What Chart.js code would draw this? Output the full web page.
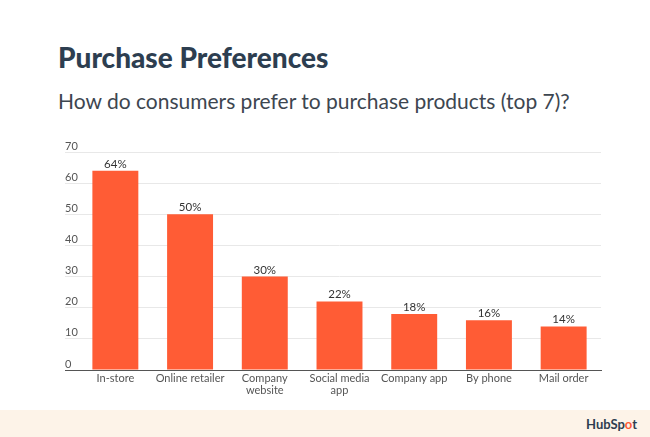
<!DOCTYPE html>
<html>
<head>
<meta charset="utf-8">
<script src="https://cdn.jsdelivr.net/npm/chart.js@4"></script>
<style>
  body { margin: 0; width: 650px; height: 437px; background: #fff; position: relative; overflow: hidden; font-family: Lato, sans-serif; }
  #title { position: absolute; left: 58px; top: 41px; font-size: 28px; line-height: 1.2; font-weight: 900; color: #2d3e50; margin: 0; white-space: nowrap; }
  #subtitle { position: absolute; left: 58px; top: 88px; font-size: 21px; line-height: 1.2; font-weight: 400; color: #3d4650; margin: 0; white-space: nowrap; }
  #wrap { position: absolute; left: 0; top: 130px; width: 650px; height: 280px; }
  #footer { position: absolute; left: 0; top: 410px; width: 650px; height: 27px; background: #fdf3e8; }
  #logo { position: absolute; right: 13px; top: 6px; font-size: 13px; font-weight: 700; color: #2d3e50; }
  #logo span { color: #ff5c35; }
</style>
</head>
<body>
<h1 id="title">Purchase Preferences</h1>
<p id="subtitle">How do consumers prefer to purchase products (top 7)?</p>
<div id="wrap"><canvas id="chart"></canvas></div>
<div id="footer"><div id="logo">HubSp<span>o</span>t</div></div>
<script>
// chart data
const categories = ['In-store', 'Online retailer', ['Company', 'website'], ['Social media', 'app'], 'Company app', 'By phone', 'Mail order'];
const shares = [64, 50, 30, 22, 18, 16, 14];
const yTicks = [0, 10, 20, 30, 40, 50, 60, 70];

// draws the "xx%" labels above each bar
const valueLabels = {
    id: 'valueLabels',
    afterDatasetsDraw(chart) {
        const ctx = chart.ctx;
        const meta = chart.getDatasetMeta(0);
        ctx.save();
        ctx.font = '11.5px Lato, sans-serif';
        ctx.fillStyle = '#333';
        ctx.textAlign = 'center';
        ctx.textBaseline = 'bottom';
        meta.data.forEach((bar, i) => {
            ctx.fillText(shares[i] + '%', bar.x, bar.y - 1);
        });
        ctx.restore();
    }
};

new Chart(document.getElementById('chart'), {
    type: 'bar',
    data: {
        labels: categories,
        datasets: [{
            data: shares,
            backgroundColor: '#ff5c35',
            borderWidth: 0,
            categoryPercentage: 1,
            barPercentage: 0.615
        }]
    },
    options: {
        responsive: true,
        maintainAspectRatio: false,
        animation: false,
        layout: { padding: { top: 22, right: 49, left: 65, bottom: 0 } },
        plugins: {
            legend: { display: false },
            tooltip: { enabled: false }
        },
        scales: {
            x: {
                afterFit: s => { s.height = 40; },
                grid: { display: false, drawTicks: false },
                border: { display: true, color: '#555', width: 1 },
                ticks: {
                    color: '#555',
                    padding: 3,
                    maxRotation: 0,
                    autoSkip: false,
                    font: { family: 'Lato', size: 11, lineHeight: 1.05 }
                }
            },
            y: {
                min: 0,
                max: 70,
                afterFit: s => { s.width = 13; },
                afterBuildTicks: s => { s.ticks = yTicks.map(v => ({ value: v })); },
                border: { display: false },
                grid: {
                    color: c => (c.tick && c.tick.value === 0 ? '#555' : '#e8e8e8'),
                    tickLength: 13,
                    drawTicks: true
                },
                ticks: {
                    color: '#555',
                    crossAlign: 'far',
                    labelOffset: -6,
                    font: { family: 'Lato', size: 11 }
                }
            }
        }
    },
    plugins: [valueLabels]
});
</script>
</body>
</html>
